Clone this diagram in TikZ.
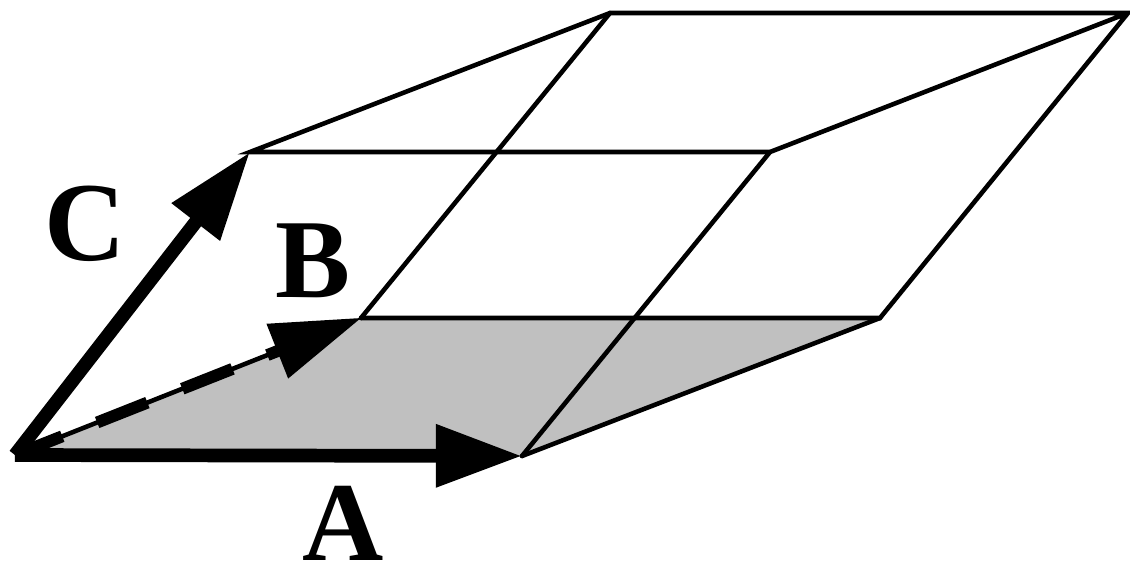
\documentclass[tikz,border=0pt]{standalone}
\usepackage{fontspec}
\setmainfont{Liberation Serif}
\usetikzlibrary{arrows.meta,calc}
\tikzset{
  gridline/.style={line width=1.3pt,line cap=round,line join=miter,black},
  vecA/.style={line width=3.9pt,-{Triangle[length=24.5pt,width=17pt]}},
  vecC/.style={line width=3.9pt,-{Triangle[length=25.2pt,width=16.4pt]}},
  vecB/.style={line width=1.3pt,-{Triangle[length=25.6pt,width=16.4pt]}},
  vecBdash/.style={line width=3.4pt,dash pattern=on 15.36pt off 10.67pt,dash phase=0.9pt},
  lab/.style={font=\bfseries\fontsize{32}{32}\selectfont,inner sep=0pt},
  shade/.style={fill={rgb,255:red,192;green,192;blue,192},draw=none}
}
\begin{document}
\begin{tikzpicture}[x=0.01cm,y=-0.01cm]
\useasboundingbox (0,0) rectangle (1130,563);
\coordinate (O) at (15,455);
\coordinate (A) at (522,456);
\coordinate (B) at (361,318);
\coordinate (C) at (250,152);
\coordinate (AB) at (880,318);
\coordinate (BC) at (610,13);
\coordinate (ABC) at (1128,13);
\coordinate (AC) at (770,152);
\fill[shade] (O) -- (B) -- (AB) -- (A) -- cycle;
\draw[gridline] (B) -- (AB) -- (ABC) -- (BC) -- (C) -- (AC) -- (ABC);
\draw[gridline] (B) -- (BC);
\draw[gridline] (A) -- (AC);
\draw[gridline] (A) -- (AB);
\draw[vecBdash] (O) -- ($(O)!0.8!(B)$);
\draw[vecB] (O) -- (B);
\draw[vecA] (O) -- (A);
\draw[vecC] (O) -- (C);
\node[lab] (labA) at (343,523) {A};
\node[lab] (labB) at (313,261) {B};
\node[lab] (labC) at (85,224) {C};
\end{tikzpicture}
\end{document}
